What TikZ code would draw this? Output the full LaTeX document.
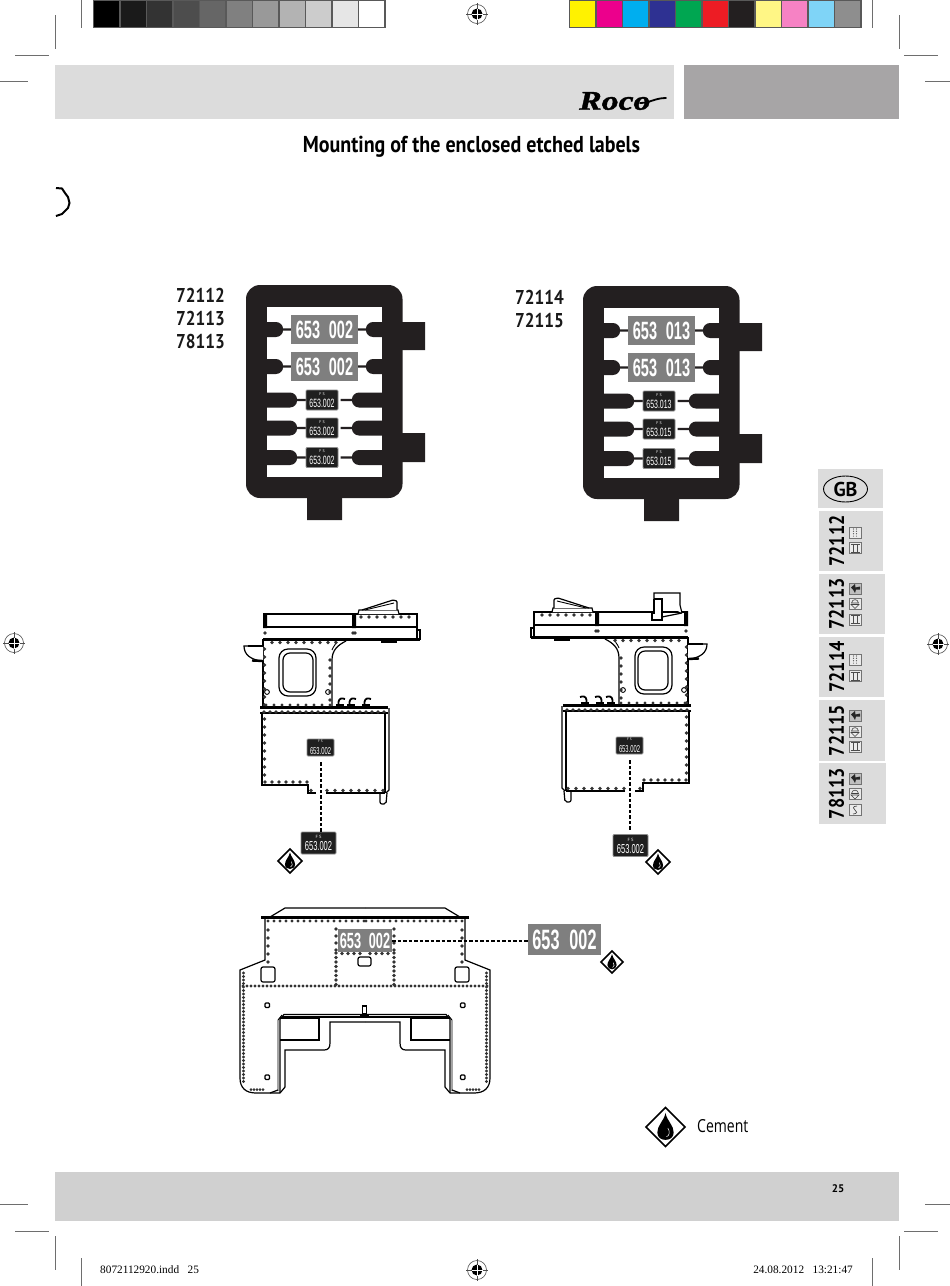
\documentclass[tikz,border=0pt]{standalone}
\usepackage{fontspec}
\usepackage{xcolor}
\usetikzlibrary{calc, shapes.geometric}
\setmainfont{PT Sans}
\newfontfamily\headfont[FakeStretch=0.87]{PT Sans}
\newfontfamily\numfont[FakeStretch=0.86]{PT Sans}
\newfontfamily\platefont[FakeStretch=0.58,WordSpace=2.2]{Liberation Sans}
\newfontfamily\logofont[FakeStretch=1.25,FakeBold=1.5]{Liberation Serif}
\newfontfamily\slugfont{Liberation Serif}
\newfontfamily\lightfont[FakeStretch=0.78]{Open Sans}

\definecolor{headlight}{HTML}{DCDCDC}
\definecolor{headdark}{HTML}{A7A5A6}
\definecolor{footband}{HTML}{D0D0D0}
\definecolor{tagsteel}{HTML}{7F7F7F}
\definecolor{cropgray}{HTML}{6E6E6E}
\definecolor{etchblack}{HTML}{231F20}

\tikzset{
    cropline/.style={draw=cropgray, line width=0.7pt},
    stripcell/.style={draw=black!65, line width=1.2pt},
    tabbox/.style={draw=none, fill=headlight},
    tabtext/.style={rotate=90, inner sep=0pt, font=\numfont\fontsize{21}{21}\selectfont\bfseries},
    partno/.style={inner sep=0pt, font=\numfont\fontsize{20}{20}\selectfont\bfseries, text=black!90},
    bigtag/.style={fill=tagsteel, text=white, inner sep=0pt, font=\platefont\fontsize{#1}{#1}\selectfont\bfseries},
    fstag/.style={fill=black!88, draw=black!45, line width=0.9pt, rounded corners=1pt, text=white, inner sep=0pt, align=center},
    tagdash/.style={draw=black, line width=2pt, dash pattern=on 3.5pt off 2pt},
    wall/.style={draw=black, line width=1.2pt},
    thinwall/.style={draw=black, line width=0.9pt},
    thickwall/.style={draw=black, line width=2.4pt},
    rivet/.style={fill=black!80},
    % register marks
    regmark/.pic={
        \draw[line width=0.5pt, black!70] (-11,0) -- (11,0) (0,-11) -- (0,11);
        \draw[line width=0.6pt, black!70] (0,0) circle[radius=9.5];
        \fill[black] (0,0) circle[radius=5.5];
        \draw[line width=0.4pt, white] (-5.5,0) -- (5.5,0) (0,-5.5) -- (0,5.5);
    },
    % cement symbol
    cementmark/.pic={
        \draw[fill=white, line width=1.5pt, line join=miter] (-1,0) -- (0,-1) -- (1,0) -- (0,1) -- cycle;
        \fill[black] (0,-0.72) .. controls (0.08,-0.3) and (0.42,-0.1) .. (0.42,0.28) .. controls (0.42,0.55) and (0.2,0.66) .. (0,0.66) .. controls (-0.2,0.66) and (-0.42,0.55) .. (-0.42,0.28) .. controls (-0.42,-0.1) and (-0.08,-0.3) .. (0,-0.72) -- cycle;
        \draw[white, line width=0.5pt] (0.12,0.05) .. controls (0.25,0.25) and (0.2,0.45) .. (0.05,0.5);
    },
    % small tab icons
    iconbars/.pic={
        \draw[draw=black!55, line width=0.6pt, fill=white!92!black] (-6,-5.5) rectangle (6,5.5);
        \draw[black!70, line width=0.7pt] (-2,-4) -- (-2,4) (2,-4) -- (2,4) (-4.5,-4) -- (4.5,-4) (-4.5,4) -- (4.5,4);
    },
    icondots/.pic={
        \draw[draw=black!55, line width=0.6pt, fill=white!92!black] (-6,-5.5) rectangle (6,5.5);
        \foreach \u in {-1.5,1.5} \foreach \v in {-3.6,-1.2,1.2,3.6} \fill[black!70] (\u,\v) circle[radius=0.6];
    },
    iconlamp/.pic={
        \draw[draw=black!55, line width=0.6pt, fill=black!25] (-6,-5.5) rectangle (6,5.5);
        \fill[black!85] (-4,-1) -- (0,-4.5) -- (0.5,-1) -- (5,-2) -- (5,1) -- (1,1) -- (0,4.5) -- (-2,1) -- cycle;
    },
    iconlight/.pic={
        \draw[draw=black!55, line width=0.6pt, fill=white!92!black] (-6,-5.5) rectangle (6,5.5);
        \draw[black!75, line width=0.6pt] (-3.5,-0.5) .. controls (-3,-5) and (3,-5) .. (3.5,-0.5) -- cycle;
        \draw[black!75, line width=0.6pt] (-4,1) -- (4,1) -- (0,5) -- cycle;
    },
    iconwave/.pic={
        \draw[draw=black!55, line width=0.6pt, fill=white!92!black] (-6,-5.5) rectangle (6,5.5);
        \draw[black!70, line width=0.7pt] (2,-4) .. controls (-3,-4) and (-2,-0.5) .. (0,0) .. controls (2,0.5) and (3,4) .. (-2,4);
    },
    % side wall of the cab
    cabside/.pic={
        % roof
        \draw[wall] (263,614) -- (417,614) -- (417,639);
        \draw[wall] (263,627) -- (417,627);
        \draw[thickwall] (263,639.5) -- (420,639.5);
        \draw[wall] (417,630) -- (420,630) -- (420,640);
        \fill[black] (263,613) rectangle (267,628) (352,613) rectangle (356,628);
        \fill[black] (381,640) rectangle (397,642.5);
        \foreach \x in {361,369,...,409} \fill[rivet] (\x,617) circle[radius=1.8];
        \foreach \x in {265,353,355} \fill[rivet] (\x,633) circle[radius=1.8];
        % roof vent
        \draw[wall, fill=white] (358,614) -- (359,610) -- (398,610) -- (399,614);
        \draw[wall, fill=white, rounded corners=1pt] (362,610) -- (393,600) -- (397,601) -- (397,610);
        \draw[thinwall] (365,610) -- (394,603);
        % cab wall and window
        \draw[wall] (263,639) -- (263,707);
        \draw[wall] (332,708) -- (332,660) .. controls (332,650) and (338,645) .. (346,641);
        \draw[thinwall] (335,641) .. controls (338,643) and (333,646) .. (332,650);
        \draw[wall, rounded corners=9pt] (279,649) rectangle (316,696);
        \draw[wall, rounded corners=7pt] (283,653) rectangle (313,692);
        \draw[thinwall] (267,692) circle[radius=2.4] (328,692) circle[radius=2.4];
        \foreach \x in {272,280,...,336} \fill[rivet] (\x,642.5) circle[radius=1.8];
        \foreach \y in {649,657,...,705} \fill[rivet] (264.5,\y) circle[radius=1.8];
        \foreach \y in {660,668,...,700} \fill[rivet] (330,\y) circle[radius=1.8];
        % hand rail
        \draw[wall, fill=white] (263,646) -- (244,646) .. controls (244,654) and (250,660) .. (263,661);
        \draw[thickwall] (248,646) -- (263,646);
        \draw[thickwall] (252,660.5) -- (263,661);
        % valves
        \foreach \x in {340,351,366}{
            \fill[black] (\x-4,704) rectangle (\x+4,708);
            \draw[line width=1.8pt] (\x-1.5,706) -- (\x-1.5,702) .. controls (\x-1,698) and (\x+2,698) .. (\x+5,699);
        }
        % running board
        \draw[thickwall] (260,707.5) -- (388,707.5);
        \draw[wall] (260,713) -- (388,713);
        \foreach \x in {266,274,...,330} \fill[rivet] (\x,705) circle[radius=1.6];
        \foreach \x in {264,270,...,384} \fill[rivet] (\x,712) circle[radius=1.8];
        % lower wall
        \draw[wall] (262,713) -- (262,785) -- (308,785) -- (308,793) -- (316,793);
        \draw[wall] (326,793) -- (385,793);
        \draw[wall] (385,713) -- (385,793);
        \draw[wall] (389,708) -- (389,790) -- (386,793);
        \draw[wall, rounded corners=2pt] (380,793) -- (380,804) -- (386,804) -- (387,793);
        \foreach \y in {719,727,...,775} \fill[rivet] (264.5,\y) circle[radius=1.8];
        \foreach \x in {265,272,...,307} \fill[rivet] (\x,782) circle[radius=1.8];
        \foreach \x in {311,327,335,...,383} \fill[rivet] (\x,790.5) circle[radius=1.8];
    },
    % half of the cab front
    fronthalf/.pic={
        \draw[wall, fill=white] (270,917) -- (285,908) -- (365,908);
        \draw[thickwall] (261,917.5) -- (365,917.5);
        \foreach \x in {268,274,...,365} \fill[rivet] (\x,921) circle[radius=1.7];
        % body
        \draw[wall] (265,919) -- (265,960) -- (240,970) -- (240,1078) .. controls (240,1088) and (246,1093) .. (256,1093) -- (280,1093);
        \foreach \y in {930,938,946,954,962} \fill[rivet] (268,\y) circle[radius=1.8];
        \foreach \y in {973,976.5,...,1082} \fill[rivet] (243.5,\y) circle[radius=1.6];
        \foreach \x in {243,247,...,365} \fill[rivet] (\x,986) circle[radius=1.7];
        \foreach \x in {251,254,...,264} \fill[rivet] (\x,1089.5) circle[radius=1.5];
        \draw[wall, rounded corners=2pt] (261,967) rectangle (275,982);
        % panel
        \foreach \y in {929,936,943,950} \fill[rivet] (336,\y) circle[radius=1.8];
        \foreach \y in {953,957.5,...,985} \fill[rivet] (336,\y) circle[radius=1.8];
        \foreach \x in {342,348,...,365} \fill[rivet] (\x,953.5) circle[radius=1.8];
        % screw holes
        \draw[wall, rounded corners=1pt] (265,1003) rectangle (269.5,1007.5) (265,1075) rectangle (269.5,1079.5);
        % opening
        \draw[wall] (280,1093) -- (280,1019) -- (284,1014.5) -- (365,1014.5);
        \draw[thickwall] (283,1017) -- (365,1017);
        \draw[thinwall] (278,1091) -- (278,1020) -- (282,1015);
        \draw[wall] (280,1018) -- (319,1018) -- (319,1040) -- (280,1040);
        \draw[wall] (365,1022) -- (330,1022) -- (330,1043) .. controls (330,1048) and (328,1050) .. (324,1050) -- (285,1050) -- (285,1087) -- (280,1093);
        \draw[wall] (270,1093) -- (278,1090);
    },
}

\begin{document}
\begin{tikzpicture}[x=1pt, y=-1pt]
    \useasboundingbox (0,0) rectangle (950,1286);

    % crop marks
    \draw[cropline] (81,0) -- (81,28) (55,15) -- (55,49) (15,55) -- (49,55) (0,81) -- (28,81);
    \draw[cropline] (872,0) -- (872,28) (899,15) -- (899,49) (904,55) -- (938,55) (925,81) -- (950,81);
    \draw[cropline] (0,1204) -- (28,1204) (15,1231) -- (49,1231) (55,1236) -- (55,1270) (81,1258) -- (81,1286);
    \draw[cropline] (925,1204) -- (950,1204) (904,1231) -- (938,1231) (899,1236) -- (899,1270) (872,1258) -- (872,1286);

    % register marks
    \pic at (477,14) {regmark};
    \pic at (14,643) {regmark};
    \pic at (938,644) {regmark};
    \pic at (477,1270) {regmark};

    % colour strips
    \foreach \c [count=\i from 0] in {000000,1A1A1A,333333,4D4D4D,666666,808080,999999,B3B3B3,CCCCCC,E6E6E6,FFFFFF}{
        \definecolor{cellcolor}{HTML}{\c}
        \draw[stripcell, fill=cellcolor] (93.5+\i*26.5,0.5) rectangle ++(26.5,27);
    }
    \foreach \c [count=\i from 0] in {FFF200,EC008C,00AEEF,2E3192,00A651,ED1C24,231F20,FFF685,F682C4,7FD4F7,8E8E8E}{
        \definecolor{cellcolor}{HTML}{\c}
        \draw[stripcell, fill=cellcolor] (569.5+\i*26.5,0.5) rectangle ++(26.5,27);
    }

    % header
    \fill[headlight] (55,65) rectangle (674,119);
    \fill[headdark] (684,65) rectangle (899,119);
    \node[inner sep=0pt, anchor=west, font=\logofont\fontsize{27}{27}\selectfont\bfseries\itshape] (logo) at (579,101) {Roco};
    \draw[line width=1.8pt, line cap=round] (640,103) .. controls (650,103) and (655,98) .. (666,98);

    \node[inner sep=0pt, font=\headfont\fontsize{23}{23}\selectfont\bfseries] (title) at (471.5,147) {Mounting of the enclosed etched labels};

    % bracket
    \draw[line width=2pt] (56,188) -- (62,188.5) -- (65,193) -- (68,197) -- (69.5,203) -- (68,208) -- (65,211) -- (62,214) -- (56,216);

    % part numbers
    \node[partno, anchor=east] (numa) at (225,295) {72112};
    \node[partno, anchor=east] (numb) at (225,318) {72113};
    \node[partno, anchor=east] (numc) at (225,341) {78113};
    \node[partno, anchor=east] (numd) at (564,297) {72114};
    \node[partno, anchor=east] (nume) at (564,320) {72115};

    % etched sheets
    \foreach \dx/\dy/\big/\one/\two/\nm in {0/0/653 002/653.002/653.002/a, 337/1/653 013/653.013/653.015/b}{
        \begin{scope}[shift={(\dx,\dy)}]
            \fill[etchblack] (307,495) rectangle (342,520) (400,322) rectangle (425,350) (400,433) rectangle (425,462);
            \fill[etchblack, rounded corners=14pt] (246,285) rectangle (402.5,498);
            \fill[white] (267,307) rectangle (382,477);
            \foreach \sgn in {-1,1}{
                \begin{scope}[shift={(324.5,0)}, xscale=\sgn]
                    \foreach \y/\e/\p in {329.5/41.5/33, 366.5/41.5/33, 400/27.5/16, 428/27.5/16, 457.5/27.5/16}
                        \fill[etchblack] (59,\y-7.5) -- (\e+7,\y-7.5) .. controls (\e+3,\y-7.5) and (\e,\y-4) .. (\e,\y-1.2) -- (\p,\y-1.2) -- (\p,\y+1.2) -- (\e,\y+1.2) .. controls (\e,\y+4) and (\e+3,\y+7.5) .. (\e+7,\y+7.5) -- (59,\y+7.5) -- cycle;
                \end{scope}
            }
            \node[bigtag=25, minimum width=67pt, minimum height=29pt] (plate\nm1) at (324.5,329.5) {\big};
            \node[bigtag=25, minimum width=67pt, minimum height=29pt] (plate\nm2) at (324.5,366.5) {\big};
            \node[fstag, minimum width=32pt, minimum height=20pt] (tag\nm1) at (322,400) {\fontsize{4}{4}\selectfont F S\\\platefont\fontsize{12}{9}\selectfont \one};
            \node[fstag, minimum width=32pt, minimum height=20pt] (tag\nm2) at (322,428) {\fontsize{4}{4}\selectfont F S\\\platefont\fontsize{12}{9}\selectfont \two};
            \node[fstag, minimum width=32pt, minimum height=20pt] (tag\nm3) at (322,457.5) {\fontsize{4}{4}\selectfont F S\\\platefont\fontsize{12}{9}\selectfont \two};
        \end{scope}
    }

    % cab sides
    \pic at (0,0) {cabside};
    \pic[xscale=-1] at (951,-2) {cabside};

    % stack on the right side
    \draw[wall, fill=white] (654,599) -- (654,593) -- (680,593) -- (680,605) -- (682,613);
    \draw[wall, fill=white] (654,599) -- (662,599) -- (662,620) -- (652,620) -- (652,613) -- (654,613) -- (654,599);
    \draw[wall] (662,617) -- (682,613);

    \node[fstag, minimum width=27pt, minimum height=17pt] (sidetagl) at (320.5,747.5) {\fontsize{3.5}{3.5}\selectfont F S\\\platefont\fontsize{10}{8}\selectfont 653.002};
    \node[fstag, minimum width=35pt, minimum height=22pt] (sidelabell) at (318.5,843) {\fontsize{4.5}{5}\selectfont F S\\\platefont\fontsize{13}{10}\selectfont 653.002};
    \node[fstag, minimum width=27pt, minimum height=17pt] (sidetagr) at (629.5,745.5) {\fontsize{3.5}{3.5}\selectfont F S\\\platefont\fontsize{10}{8}\selectfont 653.002};
    \node[fstag, minimum width=35pt, minimum height=22pt] (sidelabelr) at (630.5,845.5) {\fontsize{4.5}{5}\selectfont F S\\\platefont\fontsize{13}{10}\selectfont 653.002};

    \draw[tagdash, shorten <=6pt] (sidetagl.south) -- (sidetagl.south |- sidelabell.north);
    \draw[tagdash, shorten <=6pt, shorten >=4pt] (sidetagr.south) -- (sidetagr.south |- sidelabelr.north);

    \pic[scale=12] at (290,861) {cementmark};
    \pic[scale=12] at (658,862) {cementmark};

    % cab front
    \pic at (0,0) {fronthalf};
    \pic[xscale=-1] at (730,0) {fronthalf};
    \draw[wall, rounded corners=2pt] (358,957) rectangle (371,966);
    \draw[thickwall] (360,1015.5) -- (369,1015.5);
    \draw[wall] (362.5,1014) rectangle (366.5,1006);

    \node[bigtag=22, minimum width=54pt, minimum height=23pt] (frontplate) at (365,940.5) {653 002};
    \node[bigtag=28, minimum width=73pt, minimum height=31pt] (frontlabel) at (564.5,939.5) {653 002};
    \draw[tagdash] (frontplate.east) -- (frontplate.east -| frontlabel.west);
    \pic[scale=11] at (612,962) {cementmark};

    % legend
    \pic[scale=19.5] at (665.5,1127) {cementmark};
    \node[inner sep=0pt, anchor=west, font=\lightfont\fontsize{18}{18}\selectfont] (cementtext) at (697,1126) {Cement};

    % thumb tabs
    \fill[tabbox] (818,469) rectangle (883,508);
    \node[draw, ellipse, line width=0.9pt, minimum width=44pt, minimum height=26pt, inner sep=0pt, font=\fontsize{20}{20}\selectfont\bfseries] (gb) at (845.5,489) {GB};
    \foreach \ya/\yb/\xb/\txt/\nm in {511/571/883/72112/a, 574/634/885/72113/b, 637/697/884/72114/c, 700/761/885/72115/d, 763/824/886/78113/e}{
        \fill[tabbox] (819,\ya) rectangle (\xb,\yb);
        \node[tabtext] (tab\nm) at (836.5,{(\ya+\yb)/2}) {\txt};
    }
    \foreach \y/\kind in {532.5/icondots, 548/iconbars, 588.5/iconlamp, 603.5/iconlight, 619.5/iconbars, 659.5/icondots, 676/iconbars, 715.5/iconlamp, 731.5/iconlight, 746.5/iconbars, 778.5/iconlamp, 794/iconlight, 810/iconwave}
        \pic at (855,\y) {\kind};

    % footer
    \fill[footband] (55,1172) rectangle (899,1221);
    \node[inner sep=0pt, font=\fontsize{11}{11}\selectfont\bfseries] (pageno) at (838,1189) {25};
    \node[inner sep=0pt, anchor=west, font=\slugfont\fontsize{11.3}{11.3}\selectfont] (slugleft) at (100,1270) {8072112920.indd\ \ \ 25};
    \node[inner sep=0pt, anchor=east, font=\slugfont\fontsize{11.3}{11.3}\selectfont] (slugright) at (853,1270) {24.08.2012\ \ \ 13:21:47};
\end{tikzpicture}
\end{document}
